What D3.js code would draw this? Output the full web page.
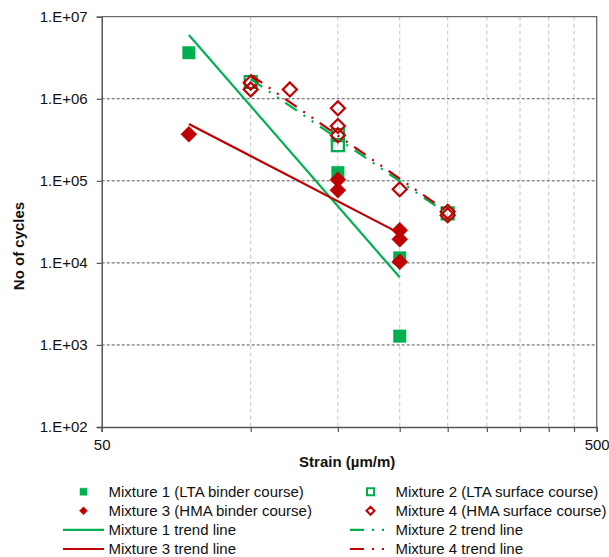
<!DOCTYPE html>
<html>
<head>
<meta charset="utf-8">
<script src="https://cdn.jsdelivr.net/npm/d3@7/dist/d3.min.js"></script>
<style>
  html, body { margin: 0; padding: 0; background: #fff; }
  svg { display: block; font-family: "Liberation Sans", Arial, sans-serif; }
</style>
</head>
<body>
<svg id="chart" width="609" height="557"></svg>
<script>
// Fatigue test results: strain (µm/m) vs number of cycles to failure
const mix1Strain = [75, 150, 200, 200];
const mix1Cycles = [3.64e6, 1.26e5, 1.15e4, 1.28e3];

const mix2Strain = [100, 150, 150, 250];
const mix2Cycles = [1.6e6, 3.6e5, 2.73e5, 4.0e4];

const mix3Strain = [75, 150, 150, 200, 200, 200];
const mix3Cycles = [3.69e5, 1.03e5, 7.7e4, 2.5e4, 1.94e4, 1.03e4];

const mix4Strain = [100, 100, 120, 150, 150, 150, 200, 250, 250];
const mix4Cycles = [1.57e6, 1.3e6, 1.3e6, 7.66e5, 4.66e5, 3.6e5, 7.9e4, 4.2e4, 3.8e4];

// Power-law trend lines, given by their end points
const trend1Strain = [75, 200];
const trend1Cycles = [5.98e6, 6.67e3];
const trend2Strain = [100, 250];
const trend2Cycles = [1.74e6, 3.94e4];
const trend3Strain = [75, 200];
const trend3Cycles = [4.92e5, 2.29e4];
const trend4Strain = [100, 250];
const trend4Cycles = [1.95e6, 4.17e4];

const yTickValues = [1e2, 1e3, 1e4, 1e5, 1e6, 1e7];
const yTickLabels = ["1.E+02", "1.E+03", "1.E+04", "1.E+05", "1.E+06", "1.E+07"];
const xTickValues = [50, 100, 150, 200, 250, 300, 350, 400, 450, 500];
const xTickLabels = ["50", "", "", "", "", "", "", "", "", "500"];

const legendLabels = [
  "Mixture 1 (LTA binder course)", "Mixture 2 (LTA surface course)",
  "Mixture 3 (HMA binder course)", "Mixture 4 (HMA surface course)",
  "Mixture 1 trend line", "Mixture 2 trend line",
  "Mixture 3 trend line", "Mixture 4 trend line"
];

const GREEN = "#00B050";
const RED = "#C00000";
const DASH_DOT_DOT = "14,8,2,8,2,8";

const svg = d3.select("#chart");
const plot = { left: 101.7, right: 596.7, top: 16.7, bottom: 427 };

const x = d3.scaleLog().domain([50, 500]).range([plot.left, plot.right]);
const y = d3.scaleLog().domain([1e2, 1e7]).range([plot.bottom, plot.top]);

const zip = (xs, ys) => xs.map((v, i) => ({ x: v, y: ys[i] }));

// Gridlines
const grid = svg.append("g");
grid.selectAll("line.vgrid")
  .data(xTickValues.slice(1, -1))
  .join("line")
  .attr("x1", d => x(d)).attr("x2", d => x(d))
  .attr("y1", plot.top).attr("y2", plot.bottom)
  .attr("stroke", "#c4c4c4").attr("stroke-width", 1)
  .attr("stroke-dasharray", "4,3");
grid.selectAll("line.hgrid")
  .data(yTickValues.slice(1, -1))
  .join("line")
  .attr("x1", plot.left).attr("x2", plot.right)
  .attr("y1", d => y(d)).attr("y2", d => y(d))
  .attr("stroke", "#555").attr("stroke-width", 1)
  .attr("stroke-dasharray", "3,2");

// Plot frame (top / right)
svg.append("path")
  .attr("d", `M${plot.left},${plot.top}H${plot.right}V${plot.bottom}`)
  .attr("fill", "none").attr("stroke", "#6a6a6a").attr("stroke-width", 1.3);

// Axes
const xAxis = d3.axisBottom(x)
  .tickValues(xTickValues)
  .tickFormat((d, i) => xTickLabels[i])
  .tickSize(5).tickPadding(7);
const gx = svg.append("g").attr("transform", `translate(0,${plot.bottom})`).call(xAxis);

const yAxis = d3.axisLeft(y)
  .tickValues(yTickValues)
  .tickFormat((d, i) => yTickLabels[i])
  .tickSize(5).tickPadding(9);
const gy = svg.append("g").attr("transform", `translate(${plot.left},0)`).call(yAxis);

[gx, gy].forEach(g => {
  g.select(".domain").attr("stroke", "#555").attr("stroke-width", 1.5);
  g.selectAll(".tick line").attr("stroke", "#555").attr("stroke-width", 1.2);
  g.selectAll(".tick text")
    .attr("fill", "#111")
    .style("font-size", "15px")
    .style("font-family", "'Liberation Sans', Arial, sans-serif");
});
gx.selectAll(".tick text").attr("dy", "0.71em");

// Axis titles
svg.append("text")
  .attr("x", (plot.left + plot.right) / 2 - 2).attr("y", 467)
  .attr("text-anchor", "middle")
  .style("font-size", "15px").style("font-weight", "bold").attr("fill", "#111")
  .text("Strain (µm/m)");
svg.append("text")
  .attr("transform", "translate(24,246) rotate(-90)")
  .attr("text-anchor", "middle")
  .style("font-size", "15px").style("font-weight", "bold").attr("fill", "#111")
  .text("No of cycles");

// Marker shapes
const squarePath = s => `M${-s/2},${-s/2}h${s}v${s}h${-s}Z`;
const diamondPath = s => `M0,${-s/2}L${s/2},0L0,${s/2}L${-s/2},0Z`;

const marks = svg.append("g");
function drawPoints(data, shape, color, filled) {
  marks.append("g").selectAll("path")
    .data(data)
    .join("path")
    .attr("transform", d => `translate(${x(d.x)},${y(d.y)})`)
    .attr("d", shape)
    .attr("fill", filled ? color : "none")
    .attr("stroke", color)
    .attr("stroke-width", filled ? 0.5 : 2.2);
}
drawPoints(zip(mix1Strain, mix1Cycles), squarePath(12.5), GREEN, true);
drawPoints(zip(mix2Strain, mix2Cycles), squarePath(12), GREEN, false);
drawPoints(zip(mix3Strain, mix3Cycles), diamondPath(16), RED, true);
drawPoints(zip(mix4Strain, mix4Cycles), diamondPath(14), RED, false);

// Trend lines
const line = d3.line().x(d => x(d.x)).y(d => y(d.y));
function drawTrend(data, color, dash) {
  svg.append("path")
    .datum(data)
    .attr("d", line)
    .attr("fill", "none")
    .attr("stroke", color)
    .attr("stroke-width", 2.2)
    .attr("stroke-dasharray", dash || null);
}
drawTrend(zip(trend1Strain, trend1Cycles), GREEN);
drawTrend(zip(trend2Strain, trend2Cycles), GREEN, DASH_DOT_DOT);
drawTrend(zip(trend3Strain, trend3Cycles), RED);
drawTrend(zip(trend4Strain, trend4Cycles), RED, DASH_DOT_DOT);

// Legend
const legendItems = [
  { type: "marker", shape: squarePath(7), color: GREEN, filled: true },
  { type: "marker", shape: squarePath(7), color: GREEN, filled: false },
  { type: "marker", shape: diamondPath(8), color: RED, filled: true },
  { type: "marker", shape: diamondPath(8), color: RED, filled: false },
  { type: "line", color: GREEN },
  { type: "line", color: GREEN, dash: DASH_DOT_DOT },
  { type: "line", color: RED },
  { type: "line", color: RED, dash: DASH_DOT_DOT }
].map((d, i) => ({ ...d, label: legendLabels[i] }));

const colX = [63, 350];
const rowY0 = 491.7, rowStep = 19.1;
const legend = svg.append("g");
legendItems.forEach((d, i) => {
  const gx0 = colX[i % 2];
  const gy0 = rowY0 + Math.floor(i / 2) * rowStep;
  const g = legend.append("g").attr("transform", `translate(${gx0},${gy0})`);
  if (d.type === "marker") {
    g.append("path")
      .attr("transform", "translate(20.5,0)")
      .attr("d", d.shape)
      .attr("fill", d.filled ? d.color : "none")
      .attr("stroke", d.color)
      .attr("stroke-width", d.filled ? 0.5 : 2);
  } else {
    g.append("line")
      .attr("x1", 0).attr("x2", d.dash ? 38 : 41)
      .attr("y1", 0).attr("y2", 0)
      .attr("stroke", d.color).attr("stroke-width", 2.2)
      .attr("stroke-dasharray", d.dash || null);
  }
  g.append("text")
    .attr("x", 45.5).attr("y", 0).attr("dy", "0.35em")
    .style("font-size", "15px").attr("fill", "#111")
    .text(d.label);
});
</script>
</body>
</html>
